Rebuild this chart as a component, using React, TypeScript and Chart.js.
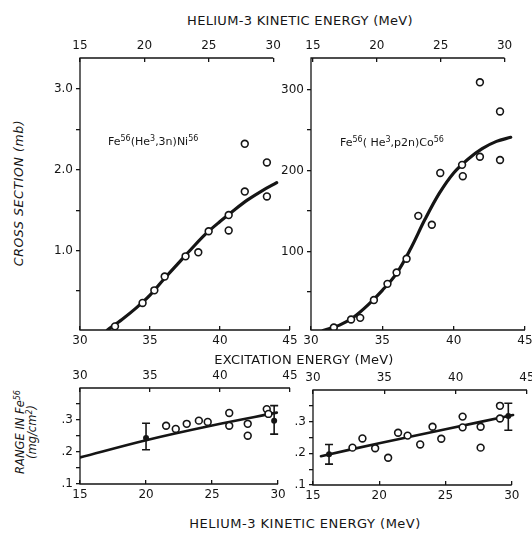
import React, { useEffect, useRef } from "react";
import { Chart, registerables } from "chart.js";

Chart.register(...registerables);

const FONT = "'DejaVu Sans', 'Liberation Sans', sans-serif";
const INK = "#151515";

// ---------- axis ticks ----------
const excTicks = [30, 35, 40, 45];
const heTicks = [15, 20, 25, 30];
const niYTicks = [0.5, 1, 1.5, 2, 2.5, 3];
const coYTicks = [50, 100, 150, 200, 250, 300];
const rangeTicks = [0.1, 0.15, 0.2, 0.25, 0.3, 0.35];

// ---------- Fe56(He3,3n)Ni56 : cross section (mb) vs excitation energy (MeV) ----------
const niExc = [32.5, 34.47, 35.31, 36.05, 37.54, 38.45, 39.19, 40.62, 40.62, 41.77, 41.77, 43.35, 43.35];
const niXs = [0.065, 0.354, 0.51, 0.68, 0.93, 0.98, 1.24, 1.44, 1.25, 1.73, 2.32, 2.09, 1.67];
const niFitExc = [31.96, 33, 34, 35, 36, 37, 38, 39, 40, 41, 42, 43, 44.05];
const niFitXs = [0.02, 0.15, 0.29, 0.45, 0.65, 0.84, 1.03, 1.21, 1.36, 1.5, 1.63, 1.74, 1.84];

// ---------- Fe56(He3,p2n)Co56 : cross section (mb) vs excitation energy (MeV) ----------
const coExc = [31.6, 32.81, 33.45, 34.41, 35.36, 36.0, 36.7, 37.52, 38.47, 39.06, 40.59, 40.64, 41.84, 41.84, 43.25, 43.25];
const coXs = [6, 16, 18, 40, 60, 74, 91, 144, 133, 197, 207, 193, 309, 217, 273, 213];
const coFitExc = [30.85, 32, 33, 34, 35, 36, 37, 38, 39, 40, 41, 42, 43, 44];
const coFitXs = [2.5, 9, 19, 34, 52, 73, 104, 140, 172, 197, 214, 227, 236, 241];

// ---------- Range in Fe56 (mg/cm2) vs He3 kinetic energy, left ----------
const blE = [21.52, 22.25, 23.08, 24.0, 24.67, 26.3, 26.3, 27.7, 27.7, 29.14, 29.27];
const blR = [0.282, 0.272, 0.288, 0.298, 0.294, 0.322, 0.282, 0.288, 0.251, 0.334, 0.319];
const blErrE = [20.0, 29.7];
const blErrR = [0.244, 0.298];
const blErrLo = [0.207, 0.256];
const blErrHi = [0.29, 0.345];
const blFitE = [15, 20, 25, 29.9];
const blFitR = [0.183, 0.237, 0.283, 0.323];

// ---------- Range in Fe56 (mg/cm2) vs He3 kinetic energy, right ----------
const brE = [17.98, 18.73, 19.69, 20.67, 21.42, 22.14, 23.09, 24.02, 24.68, 26.29, 26.29, 27.65, 27.65, 29.11, 29.11];
const brR = [0.218, 0.247, 0.216, 0.186, 0.265, 0.256, 0.228, 0.284, 0.246, 0.316, 0.282, 0.284, 0.218, 0.35, 0.31];
const brErrE = [16.21, 29.74];
const brErrR = [0.197, 0.318];
const brErrLo = [0.166, 0.273];
const brErrHi = [0.228, 0.358];
const brFitE = [15.6, 20, 25, 30.1];
const brFitR = [0.191, 0.232, 0.276, 0.321];

type Axis = { min: number; max: number; ticks: number[]; label: (v: number) => string };
type Err = { x: number[]; y: number[]; lo: number[]; hi: number[] };
type Panel = {
  box: { left: number; top: number; width: number; height: number };
  topH: number;
  bottomH: number;
  yWidth: number;
  padRight: number;
  bottom: Axis;
  top: Axis;
  y: Axis;
  bottomEnd: number;
  topEnd: number;
  pts: { x: number[]; y: number[] };
  fit: { x: number[]; y: number[] };
  fitWidth: number;
  err?: Err;
};

const str = (v: number) => String(v);
const niLabel = (v: number) => (Math.abs(v - Math.round(v)) < 1e-6 ? v.toFixed(1) : "");
const coLabel = (v: number) => (Math.round(v) % 100 === 0 ? String(Math.round(v)) : "");
const rangeLabel = (v: number) =>
  Math.abs(v * 10 - Math.round(v * 10)) < 1e-6 ? "." + Math.round(v * 10) : "";

const zip = (xs: number[], ys: number[]) => xs.map((x, i) => ({ x, y: ys[i] }));

const framePlugin = {
  id: "frame",
  afterDatasetsDraw(chart: any, _args: any, opts: any) {
    const { ctx, chartArea: ca, scales } = chart;
    const xb = scales.xb;
    const xt = scales.xt;
    const y = scales.y;
    ctx.save();
    ctx.strokeStyle = INK;
    ctx.lineWidth = 1.3;
    ctx.beginPath();
    ctx.moveTo(ca.left, ca.top);
    ctx.lineTo(ca.left, ca.bottom);
    ctx.moveTo(ca.left - 0.6, ca.bottom);
    ctx.lineTo(xb.getPixelForValue(opts.bottomEnd), ca.bottom);
    ctx.moveTo(ca.left - 0.6, ca.top);
    ctx.lineTo(xt.getPixelForValue(opts.topEnd), ca.top);
    ctx.stroke();
    const err: Err | undefined = opts.err;
    if (err) {
      ctx.lineWidth = 1.6;
      ctx.beginPath();
      err.x.forEach((xv, i) => {
        const px = xb.getPixelForValue(xv);
        const pl = y.getPixelForValue(err.lo[i]);
        const ph = y.getPixelForValue(err.hi[i]);
        ctx.moveTo(px, pl);
        ctx.lineTo(px, ph);
        ctx.moveTo(px - 4, pl);
        ctx.lineTo(px + 4, pl);
        ctx.moveTo(px - 4, ph);
        ctx.lineTo(px + 4, ph);
      });
      ctx.stroke();
    }
    ctx.restore();
  },
};

function makeChart(canvas: HTMLCanvasElement, p: Panel) {
  const tickFont = { family: FONT, size: 12 };
  const xAxis = (a: Axis, position: "top" | "bottom", h: number, pad: number) => ({
    type: "linear",
    position,
    min: a.min,
    max: a.max,
    afterBuildTicks: (s: any) => {
      s.ticks = a.ticks.map((v) => ({ value: v }));
    },
    afterFit: (s: any) => {
      s.height = h;
    },
    ticks: {
      callback: (v: any) => a.label(Number(v)),
      font: tickFont,
      color: INK,
      padding: pad,
      maxRotation: 0,
      autoSkip: false,
    },
    grid: { drawOnChartArea: false, tickLength: -4, color: INK, lineWidth: 1.3 },
    border: { display: false },
  });
  const datasets: any[] = [
    {
      data: zip(p.pts.x, p.pts.y),
      xAxisID: "xb",
      yAxisID: "y",
      pointStyle: "circle",
      pointRadius: 3.4,
      pointBorderWidth: 1.6,
      pointBorderColor: INK,
      pointBackgroundColor: "#ffffff",
      showLine: false,
    },
  ];
  if (p.err) {
    datasets.push({
      data: zip(p.err.x, p.err.y),
      xAxisID: "xb",
      yAxisID: "y",
      pointStyle: "circle",
      pointRadius: 3,
      pointBorderWidth: 0,
      pointBackgroundColor: INK,
      showLine: false,
    });
  }
  datasets.push({
    data: zip(p.fit.x, p.fit.y),
    xAxisID: "xb",
    yAxisID: "y",
    showLine: true,
    borderColor: INK,
    borderWidth: p.fitWidth,
    pointRadius: 0,
    tension: 0.35,
    borderCapStyle: "round",
  });
  return new Chart(canvas, {
    type: "scatter",
    data: { datasets },
    options: {
      responsive: false,
      animation: false,
      devicePixelRatio: 1,
      layout: { padding: { left: 0, top: 0, bottom: 0, right: p.padRight } },
      plugins: {
        legend: { display: false },
        tooltip: { enabled: false },
        frame: { bottomEnd: p.bottomEnd, topEnd: p.topEnd, err: p.err },
      } as any,
      scales: {
        xb: xAxis(p.bottom, "bottom", p.bottomH, 8),
        xt: xAxis(p.top, "top", p.topH, 9),
        y: {
          type: "linear",
          position: "left",
          min: p.y.min,
          max: p.y.max,
          afterBuildTicks: (s: any) => {
            s.ticks = p.y.ticks.map((v) => ({ value: v }));
          },
          afterFit: (s: any) => {
            s.width = p.yWidth;
          },
          ticks: {
            callback: (v: any) => p.y.label(Number(v)),
            font: tickFont,
            color: INK,
            padding: 3,
            autoSkip: false,
          },
          grid: { drawOnChartArea: false, tickLength: 4, color: INK, lineWidth: 1.3 },
          border: { display: false },
        },
      } as any,
    },
    plugins: [framePlugin],
  } as any);
}

const panels: Panel[] = [
  {
    box: { left: 40, top: 28, width: 268, height: 322 },
    topH: 30,
    bottomH: 20,
    yWidth: 40,
    padRight: 18,
    bottom: { min: 30, max: 45, ticks: excTicks, label: str },
    top: { min: 15, max: 31.3, ticks: heTicks, label: str },
    y: { min: 0.02, max: 3.38, ticks: niYTicks, label: niLabel },
    bottomEnd: 45,
    topEnd: 30,
    pts: { x: niExc, y: niXs },
    fit: { x: niFitExc, y: niFitXs },
    fitWidth: 3.2,
  },
  {
    box: { left: 271, top: 28, width: 272, height: 322 },
    topH: 30,
    bottomH: 20,
    yWidth: 40,
    padRight: 18,
    bottom: { min: 30, max: 45, ticks: excTicks, label: str },
    top: { min: 14.85, max: 31.6, ticks: heTicks, label: str },
    y: { min: 3, max: 339, ticks: coYTicks, label: coLabel },
    bottomEnd: 45,
    topEnd: 30,
    pts: { x: coExc, y: coXs },
    fit: { x: coFitExc, y: coFitXs },
    fitWidth: 3.2,
  },
  {
    box: { left: 40, top: 358, width: 268, height: 148 },
    topH: 30,
    bottomH: 22,
    yWidth: 40,
    padRight: 18,
    bottom: { min: 15, max: 30.9, ticks: heTicks, label: str },
    top: { min: 30, max: 45, ticks: excTicks, label: str },
    y: { min: 0.1, max: 0.4, ticks: rangeTicks, label: rangeLabel },
    bottomEnd: 30,
    topEnd: 45,
    pts: { x: blE, y: blR },
    fit: { x: blFitE, y: blFitR },
    fitWidth: 2.6,
    err: { x: blErrE, y: blErrR, lo: blErrLo, hi: blErrHi },
  },
  {
    box: { left: 273, top: 360, width: 272, height: 147 },
    topH: 30,
    bottomH: 22,
    yWidth: 40,
    padRight: 18,
    bottom: { min: 15, max: 31.15, ticks: heTicks, label: str },
    top: { min: 30, max: 45, ticks: excTicks, label: str },
    y: { min: 0.1, max: 0.4, ticks: rangeTicks, label: rangeLabel },
    bottomEnd: 30,
    topEnd: 45,
    pts: { x: brE, y: brR },
    fit: { x: brFitE, y: brFitR },
    fitWidth: 2.6,
    err: { x: brErrE, y: brErrR, lo: brErrLo, hi: brErrHi },
  },
];

function PanelCanvas({ p }: { p: Panel }) {
  const ref = useRef<HTMLCanvasElement | null>(null);
  useEffect(() => {
    if (!ref.current) return;
    const c = makeChart(ref.current, p);
    return () => c.destroy();
  }, [p]);
  return (
    <canvas
      ref={ref}
      width={p.box.width}
      height={p.box.height}
      style={{
        position: "absolute",
        left: p.box.left,
        top: p.box.top,
        width: p.box.width,
        height: p.box.height,
      }}
    />
  );
}

const textBase: React.CSSProperties = {
  position: "absolute",
  whiteSpace: "nowrap",
  fontFamily: FONT,
  color: INK,
  lineHeight: 1,
};

function Centered({ x, y, children, style }: { x: number; y: number; children: any; style?: React.CSSProperties }) {
  return (
    <div style={{ ...textBase, left: x, top: y, transform: "translate(-50%, -50%)", ...style }}>{children}</div>
  );
}

const sup: React.CSSProperties = { fontSize: 8, verticalAlign: "4px", lineHeight: 0 };

export default function App() {
  return (
    <div
      style={{
        position: "fixed",
        left: 0,
        top: 0,
        width: 532,
        height: 537,
        overflow: "hidden",
        background: "#ffffff",
      }}
    >
      {panels.map((p, i) => (
        <PanelCanvas key={i} p={p} />
      ))}
      <Centered x={300} y={20} style={{ fontSize: 13, letterSpacing: 0.3 }}>
        HELIUM-3 KINETIC ENERGY (MeV)
      </Centered>
      <Centered x={304} y={359} style={{ fontSize: 13, letterSpacing: 0.2 }}>
        EXCITATION ENERGY (MeV)
      </Centered>
      <Centered x={305} y={523} style={{ fontSize: 13, letterSpacing: 0.5 }}>
        HELIUM-3 KINETIC ENERGY (MeV)
      </Centered>
      <Centered
        x={19}
        y={193}
        style={{ fontSize: 12.5, fontStyle: "italic", letterSpacing: 0.6, transform: "translate(-50%, -50%) rotate(-90deg)" }}
      >
        CROSS SECTION (mb)
      </Centered>
      <Centered
        x={26}
        y={432}
        style={{
          fontSize: 11.5,
          fontStyle: "italic",
          textAlign: "center",
          lineHeight: "12px",
          transform: "translate(-50%, -50%) rotate(-90deg)",
        }}
      >
        <div>
          RANGE IN Fe<span style={sup}>56</span>
        </div>
        <div>
          (mg/cm<span style={sup}>2</span>)
        </div>
      </Centered>
      <div style={{ ...textBase, left: 108, top: 136, fontSize: 11 }}>
        Fe<span style={sup}>56</span>(He<span style={sup}>3</span>,3n)Ni<span style={sup}>56</span>
      </div>
      <div style={{ ...textBase, left: 340, top: 137, fontSize: 11 }}>
        Fe<span style={sup}>56</span>( He<span style={sup}>3</span>,p2n)Co<span style={sup}>56</span>
      </div>
    </div>
  );
}
